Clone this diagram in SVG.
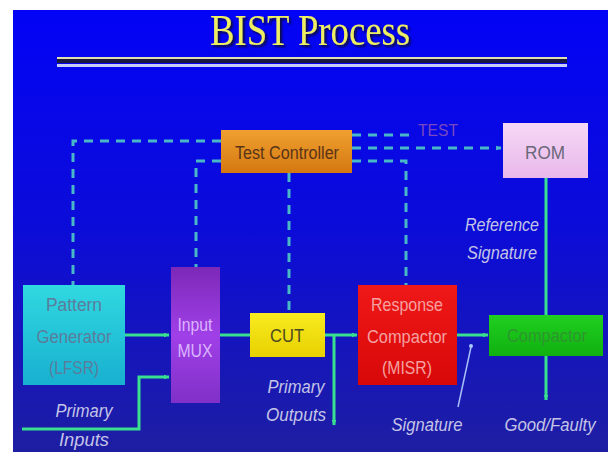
<svg xmlns="http://www.w3.org/2000/svg" width="616" height="452" viewBox="0 0 616 452">
<defs>
<linearGradient id="bg" x1="0" y1="0" x2="0" y2="1"><stop offset="0" stop-color="#0303f6"/><stop offset="0.5" stop-color="#0c0cd8"/><stop offset="1" stop-color="#1e1ea2"/></linearGradient>
<linearGradient id="gOr" x1="0" y1="0" x2="0" y2="1"><stop offset="0" stop-color="#f0a030"/><stop offset="1" stop-color="#d47810"/></linearGradient>
<linearGradient id="gRom" x1="0" y1="0" x2="0" y2="1"><stop offset="0" stop-color="#f6d8f6"/><stop offset="1" stop-color="#e8b8ea"/></linearGradient>
<linearGradient id="gPg" x1="0" y1="0" x2="0" y2="1"><stop offset="0" stop-color="#30d8e0"/><stop offset="1" stop-color="#18b0d0"/></linearGradient>
<linearGradient id="gMux" x1="0" y1="0" x2="0" y2="1"><stop offset="0" stop-color="#7c28b8"/><stop offset="0.5" stop-color="#a040e8"/><stop offset="1" stop-color="#8030c8"/></linearGradient>
<linearGradient id="gCut" x1="0" y1="0" x2="0" y2="1"><stop offset="0" stop-color="#f8ec20"/><stop offset="1" stop-color="#e8d000"/></linearGradient>
<linearGradient id="gRc" x1="0" y1="0" x2="0" y2="1"><stop offset="0" stop-color="#f01818"/><stop offset="1" stop-color="#d80808"/></linearGradient>
<linearGradient id="gCmp" x1="0" y1="0" x2="0" y2="1"><stop offset="0" stop-color="#20d020"/><stop offset="1" stop-color="#10b010"/></linearGradient>
<filter id="sh" x="-10%" y="-20%" width="120%" height="150%"><feDropShadow dx="2" dy="2" stdDeviation="0.8" flood-color="#101020" flood-opacity="0.9"/></filter>
<marker id="ag" viewBox="0 0 10 10" refX="9" refY="5" markerWidth="6" markerHeight="6" orient="auto" markerUnits="userSpaceOnUse"><path d="M0,1 L10,5 L0,9 z" fill="#38e090"/></marker>
<marker id="ad" viewBox="0 0 10 10" refX="9" refY="5" markerWidth="6" markerHeight="6" orient="auto" markerUnits="userSpaceOnUse"><path d="M0,1 L10,5 L0,9 z" fill="#48b8c8"/></marker>
</defs>
<style>
.box text{font-family:"Liberation Sans",Arial,sans-serif;font-size:18px;text-anchor:middle}
.lbl{font-family:"Liberation Sans",Arial,sans-serif;font-size:18px;font-style:italic;fill:#c4c4e6;text-anchor:middle}
.dash{fill:none;stroke:#48b8c8;stroke-width:3;stroke-dasharray:9,7}
.solid{fill:none;stroke:#38e090;stroke-width:3}
</style>
<rect x="0" y="0" width="616" height="452" fill="#ffffff"/>
<rect x="13" y="10" width="595" height="442" fill="url(#bg)"/>
<g id="title">
<text x="310" y="45" font-family="'Liberation Serif','Times New Roman',serif" font-size="44" fill="#eeee64" text-anchor="middle" textLength="200" lengthAdjust="spacingAndGlyphs" filter="url(#sh)">BIST Process</text>
<rect x="57" y="57" width="510" height="2" fill="#e0e0b0"/>
<rect x="57" y="59" width="510" height="4" fill="#1a1a40"/>
<rect x="57" y="64" width="510" height="3" fill="#c8ccf8"/>
</g>
<g id="connectors">
<path class="dash" d="M221,141 H73 V285"/>
<path class="dash" d="M221,161 H196 V267"/>
<path class="dash" d="M289,173 V313"/>
<path class="dash" d="M352,135 H412"/>
<path class="dash" d="M352,148 H501" marker-end="url(#ad)"/>
<path class="dash" d="M352,161 H406 V285"/>
<path class="solid" d="M125,335 H169" marker-end="url(#ag)"/>
<path class="solid" d="M220,335 H250"/>
<path class="solid" d="M325,335 H357" marker-end="url(#ag)"/>
<path class="solid" d="M334,335 V425" marker-end="url(#ag)"/>
<path class="solid" d="M22,429 H139 V377 H169" marker-end="url(#ag)"/>
<path class="solid" d="M457,335 H488" marker-end="url(#ag)"/>
<path class="solid" d="M546,178 V315"/>
<path class="solid" d="M546,356 V400" marker-end="url(#ag)"/>
<path d="M458,407 L471,347" stroke="#a8c0f8" stroke-width="1.5" fill="none"/>
<circle cx="471" cy="346" r="2" fill="#a8c8ff"/>
</g>
<g id="test-controller" class="box">
<rect x="221" y="130" width="131" height="43" fill="url(#gOr)"/>
<text x="287" y="159" fill="#5a3418" textLength="104" lengthAdjust="spacingAndGlyphs">Test Controller</text>
</g>
<g id="rom" class="box">
<rect x="503" y="123" width="85" height="55" fill="url(#gRom)"/>
<text x="545" y="159" fill="#6a6878" textLength="40" lengthAdjust="spacingAndGlyphs">ROM</text>
</g>
<g id="test-label">
<text x="438" y="136" font-family="'Liberation Sans',Arial,sans-serif" font-size="17" fill="#7848c0" text-anchor="middle" textLength="40" lengthAdjust="spacingAndGlyphs">TEST</text>
</g>
<g id="pattern-generator" class="box">
<rect x="23" y="285" width="102" height="100" fill="url(#gPg)"/>
<text x="74" y="311" fill="#5c7c9c" textLength="56" lengthAdjust="spacingAndGlyphs">Pattern</text>
<text x="74" y="343" fill="#5c7c9c" textLength="75" lengthAdjust="spacingAndGlyphs">Generator</text>
<text x="74" y="374" fill="#5c7c9c" textLength="50" lengthAdjust="spacingAndGlyphs">(LFSR)</text>
</g>
<g id="input-mux" class="box">
<rect x="171" y="267" width="49" height="136" fill="url(#gMux)"/>
<text x="195" y="331" fill="#dcb4ff" textLength="35" lengthAdjust="spacingAndGlyphs">Input</text>
<text x="195" y="357" fill="#dcb4ff" textLength="35" lengthAdjust="spacingAndGlyphs">MUX</text>
</g>
<g id="cut" class="box">
<rect x="250" y="313" width="75" height="44" fill="url(#gCut)"/>
<text x="287" y="342" fill="#4c4a20" textLength="34" lengthAdjust="spacingAndGlyphs">CUT</text>
</g>
<g id="response-compactor" class="box">
<rect x="358" y="285" width="99" height="100" fill="url(#gRc)"/>
<text x="407" y="311" fill="#f4a0a0" textLength="72" lengthAdjust="spacingAndGlyphs">Response</text>
<text x="407" y="343" fill="#f4a0a0" textLength="80" lengthAdjust="spacingAndGlyphs">Compactor</text>
<text x="407" y="374" fill="#f4a0a0" textLength="50" lengthAdjust="spacingAndGlyphs">(MISR)</text>
</g>
<g id="comparator" class="box">
<rect x="489" y="315" width="114" height="41" fill="url(#gCmp)"/>
<text x="547" y="342" fill="#2e962e" textLength="80" lengthAdjust="spacingAndGlyphs">Compactor</text>
</g>
<g id="labels">
<text class="lbl" x="84" y="417" textLength="57" lengthAdjust="spacingAndGlyphs">Primary</text>
<text class="lbl" x="84" y="446" textLength="50" lengthAdjust="spacingAndGlyphs">Inputs</text>
<text class="lbl" x="296" y="393" textLength="57" lengthAdjust="spacingAndGlyphs">Primary</text>
<text class="lbl" x="296" y="421" textLength="60" lengthAdjust="spacingAndGlyphs">Outputs</text>
<text class="lbl" x="502" y="231" textLength="74" lengthAdjust="spacingAndGlyphs">Reference</text>
<text class="lbl" x="502" y="259" textLength="70" lengthAdjust="spacingAndGlyphs">Signature</text>
<text class="lbl" x="427" y="431" textLength="71" lengthAdjust="spacingAndGlyphs">Signature</text>
<text class="lbl" x="550" y="431" textLength="91" lengthAdjust="spacingAndGlyphs">Good/Faulty</text>
</g>
</svg>
